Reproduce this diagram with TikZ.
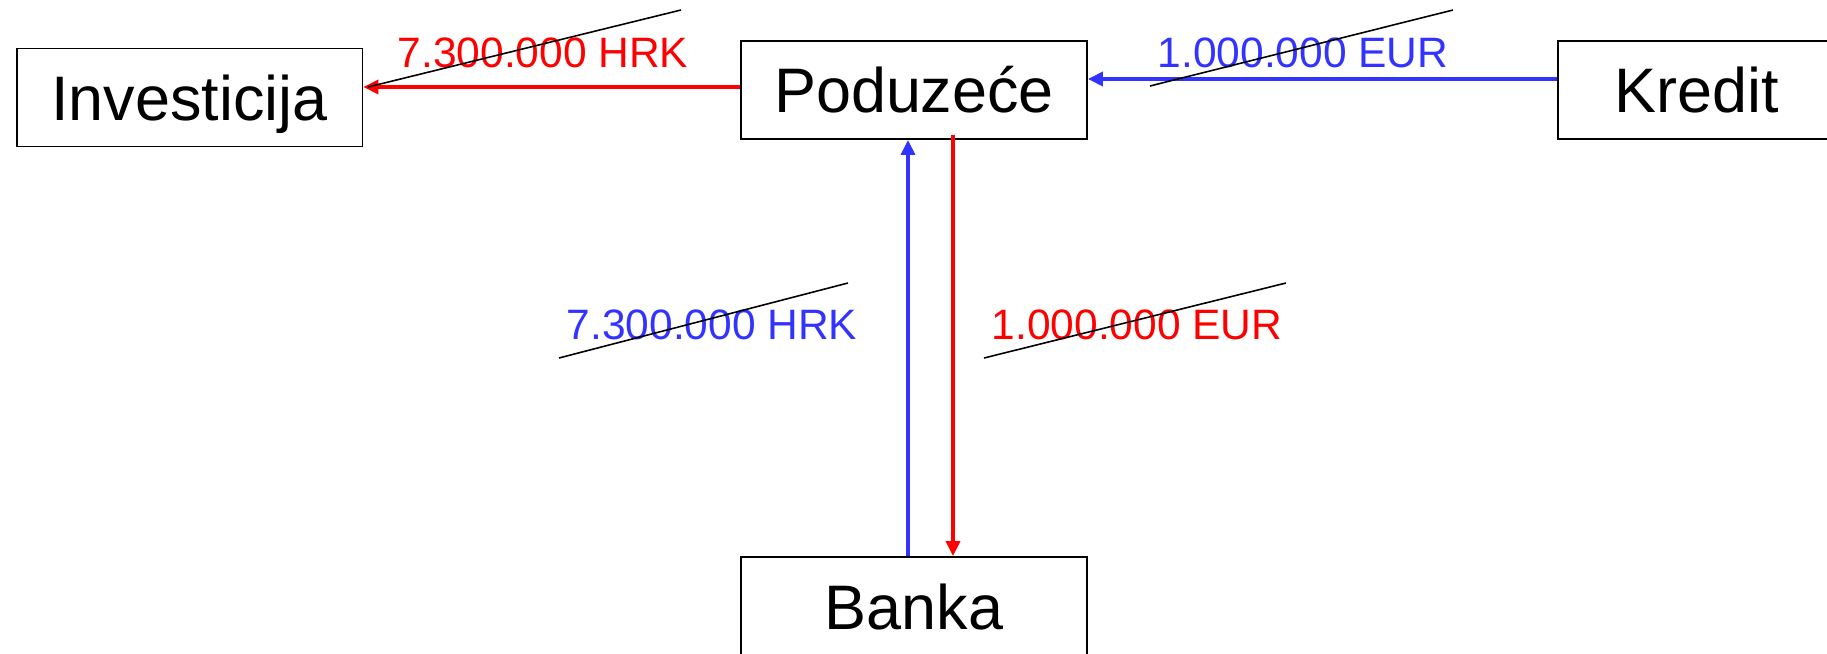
\documentclass[tikz,border=0pt]{standalone}
\usepackage{fontspec}
\setmainfont{Liberation Sans}
\usetikzlibrary{arrows.meta,calc}
\definecolor{flowblue}{RGB}{51,51,255}

\begin{document}
\begin{tikzpicture}[x=0.02cm, y=-0.02cm,
  box/.style={draw=black, line width=1.1pt, minimum width=6.92cm, minimum height=1.96cm, inner sep=0pt, text height=0.92cm, text depth=0pt, font=\fontsize{35.8}{40}\selectfont},
  amount/.style={anchor=base, inner sep=0pt, font=\fontsize{24.2}{28}\selectfont},
  flow/.style={line width=2pt, -{Triangle[length=0.3cm, width=0.28cm]}},
  strike/.style={draw=black, line width=0.9pt}]
\useasboundingbox (0,0) rectangle (1827,653);
\node[box] (Inv) at (189.5,97.5) {Investicija};
\node[box] (Podu) at (914,90) {Poduzeće};
\node[box, minimum width=5.56cm] (Kredit) at (1697,90) {Kredit};
\node[box] (Banka) at (914,606) {Banka};
\draw[flow, draw=red] ($(Podu.west)+(0,-3)$) -- ($(Inv.east |- Podu.west)+(0,-3)$);
\draw[flow, draw=flowblue] ($(Kredit.west)+(0,-11)$) -- ($(Podu.east |- Kredit.west)+(0,-11)$);
\draw[flow, draw=flowblue] ($(Banka.north)+(-6,0)$) -- ($(Podu.south)+(-6,0)$);
\draw[flow, draw=red] ($(Podu.south)+(39,-5)$) -- ($(Banka.north)+(39,0)$);
\node[amount, text=red] (hrkTop) at (543,67) {7.300.000 HRK};
\node[amount, text=flowblue] (eurTop) at (1303,67) {1.000.000 EUR};
\node[amount, text=flowblue] (hrkMid) at (712,339) {7.300.000 HRK};
\node[amount, text=red] (eurMid) at (1137,339) {1.000.000 EUR};
\draw[strike] (368,87) -- (681,10);
\draw[strike] (1150,86) -- (1453,10);
\draw[strike] (559,358) -- (848,283);
\draw[strike] (984,358) -- (1286,283);
\end{tikzpicture}
\end{document}
